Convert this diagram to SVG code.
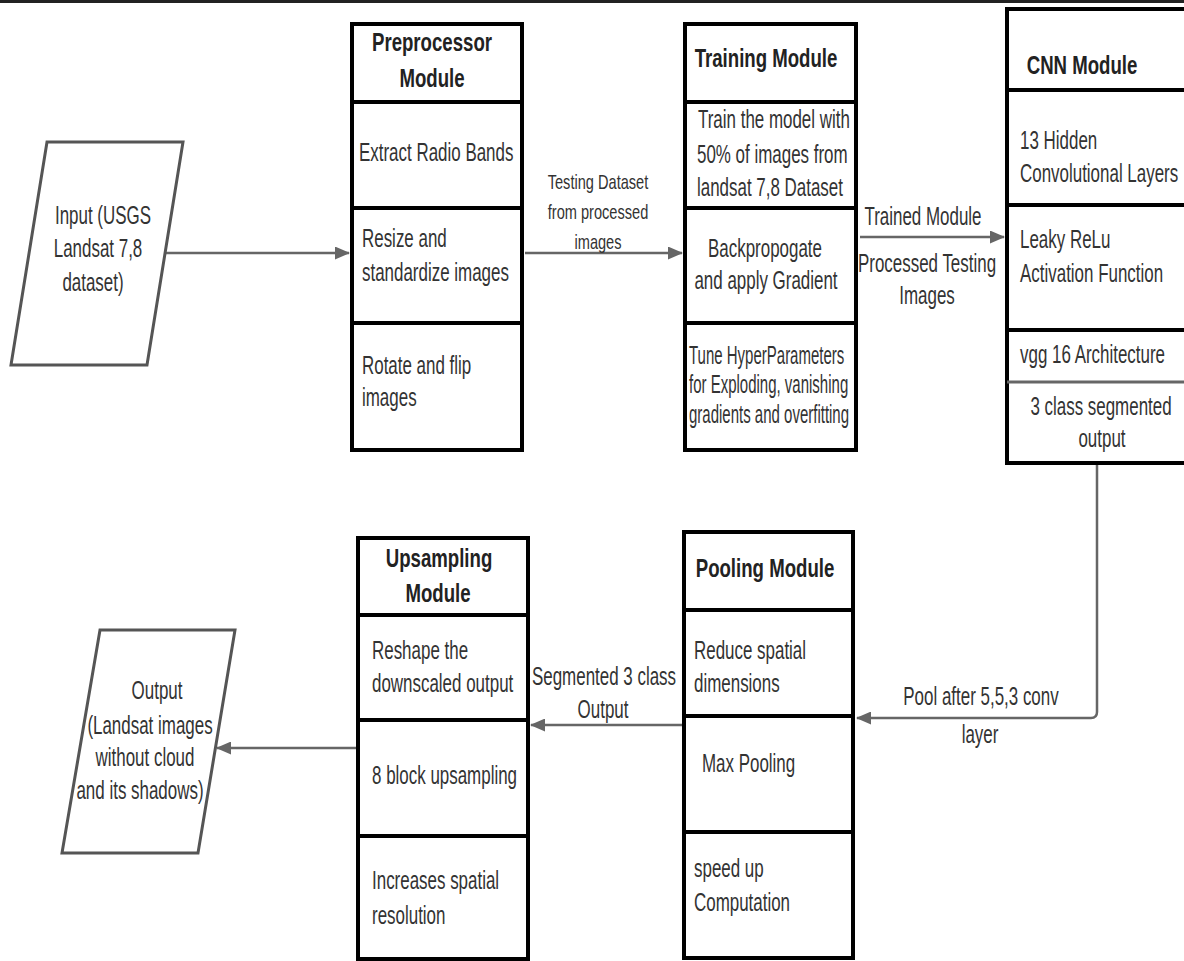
<svg xmlns="http://www.w3.org/2000/svg" width="1184" height="961" viewBox="0 0 1184 961">
<defs>
<style>
.box{fill:#fff;stroke:#000;stroke-width:4}
.div{stroke:#000;stroke-width:4}
.para{fill:#fff;stroke:#555;stroke-width:3}
.con{fill:none;stroke:#666;stroke-width:2.5}
text{font-family:"Liberation Sans",Arial,sans-serif;font-size:25px;fill:#333}
.h{font-weight:bold;font-size:25px;fill:#222}
.s{font-size:20px}
.m{text-anchor:middle}
</style>
<marker id="ah" markerUnits="userSpaceOnUse" markerWidth="15" markerHeight="13" refX="14" refY="6.5" orient="auto">
<path d="M0,0 L15,6.5 L0,13 z" fill="#666"/>
</marker>
</defs>
<rect width="1184" height="961" fill="#fff"/>
<line x1="0" y1="1.5" x2="1184" y2="1.5" stroke="#222" stroke-width="3"/>

<g id="connectors">
<line class="con" x1="165" y1="253" x2="349" y2="253" marker-end="url(#ah)"/>
<line class="con" x1="525" y1="253" x2="682" y2="253" marker-end="url(#ah)"/>
<line class="con" x1="860" y1="237" x2="1004" y2="237" marker-end="url(#ah)"/>
<path class="con" d="M1097,465 L1097,712 Q1097,718 1091,718 L857,718" marker-end="url(#ah)"/>
<line class="con" x1="682" y1="725" x2="531" y2="725" marker-end="url(#ah)"/>
<line class="con" x1="356" y1="748" x2="217" y2="748" marker-end="url(#ah)"/>
<text class="s m" transform="translate(598 189) scale(0.73 1)">Testing Dataset</text>
<text class="s m" transform="translate(598 219) scale(0.73 1)">from processed</text>
<text class="s m" transform="translate(598 249) scale(0.73 1)">images</text>
<text class="m" transform="translate(923 225) scale(0.678 1)">Trained Module</text>
<text class="m" transform="translate(927 272) scale(0.678 1)">Processed Testing</text>
<text class="m" transform="translate(927 304) scale(0.678 1)">Images</text>
<text class="m" transform="translate(981 705) scale(0.678 1)">Pool after 5,5,3 conv</text>
<text class="m" transform="translate(980 743) scale(0.678 1)">layer</text>
<text class="m" transform="translate(604 685) scale(0.678 1)">Segmented 3 class</text>
<text class="m" transform="translate(603 718) scale(0.678 1)">Output</text>
</g>

<g id="input">
<polygon class="para" points="47,142 183,142 147,365 11,365"/>
<text class="m" transform="translate(103 224) scale(0.678 1)">Input (USGS</text>
<text class="m" transform="translate(98 257) scale(0.678 1)">Landsat 7,8</text>
<text class="m" transform="translate(93 291) scale(0.678 1)">dataset)</text>
</g>

<g id="preprocessor">
<rect class="box" x="352" y="24" width="170" height="426"/>
<line class="div" x1="352" y1="102" x2="522" y2="102"/>
<line class="div" x1="352" y1="208" x2="522" y2="208"/>
<line class="div" x1="352" y1="323" x2="522" y2="323"/>
<text class="h m" transform="translate(432 51) scale(0.745 1)">Preprocessor</text>
<text class="h m" transform="translate(432 87) scale(0.745 1)">Module</text>
<text transform="translate(359 161) scale(0.678 1)">Extract Radio Bands</text>
<text transform="translate(362 247) scale(0.678 1)">Resize and</text>
<text transform="translate(362 281) scale(0.678 1)">standardize images</text>
<text transform="translate(362 374) scale(0.678 1)">Rotate and flip</text>
<text transform="translate(362 406) scale(0.678 1)">images</text>
</g>

<g id="training">
<rect class="box" x="685" y="24" width="171" height="426"/>
<line class="div" x1="685" y1="102" x2="856" y2="102"/>
<line class="div" x1="685" y1="208" x2="856" y2="208"/>
<line class="div" x1="685" y1="323" x2="856" y2="323"/>
<text class="h m" transform="translate(766 67) scale(0.745 1)">Training Module</text>
<text transform="translate(698 128) scale(0.678 1)">Train the model with</text>
<text transform="translate(697 163) scale(0.678 1)">50% of images from</text>
<text transform="translate(697 196) scale(0.678 1)">landsat 7,8 Dataset</text>
<text class="m" transform="translate(765 257) scale(0.678 1)">Backpropogate</text>
<text class="m" transform="translate(766 289) scale(0.678 1)">and apply Gradient</text>
<text transform="translate(689 364) scale(0.6 1)">Tune HyperParameters</text>
<text transform="translate(689 393) scale(0.6 1)">for Exploding, vanishing</text>
<text transform="translate(689 423) scale(0.6 1)">gradients and overfitting</text>
</g>

<g id="cnn">
<rect class="box" x="1007" y="9" width="182" height="454"/>
<line class="div" x1="1007" y1="90" x2="1189" y2="90"/>
<line class="div" x1="1007" y1="205" x2="1189" y2="205"/>
<line class="div" x1="1007" y1="330" x2="1189" y2="330"/>
<line x1="1007" y1="382" x2="1189" y2="382" stroke="#666" stroke-width="3"/>
<text class="h m" transform="translate(1082 74) scale(0.745 1)">CNN Module</text>
<text transform="translate(1020 149) scale(0.678 1)">13 Hidden</text>
<text transform="translate(1020 182) scale(0.678 1)">Convolutional Layers</text>
<text transform="translate(1020 248) scale(0.678 1)">Leaky ReLu</text>
<text transform="translate(1020 282) scale(0.678 1)">Activation Function</text>
<text transform="translate(1020 363) scale(0.678 1)">vgg 16 Architecture</text>
<text class="m" transform="translate(1101 415) scale(0.678 1)">3 class segmented</text>
<text class="m" transform="translate(1102 447) scale(0.678 1)">output</text>
</g>

<g id="pooling">
<rect class="box" x="684" y="532" width="169" height="426"/>
<line class="div" x1="684" y1="610" x2="853" y2="610"/>
<line class="div" x1="684" y1="716" x2="853" y2="716"/>
<line class="div" x1="684" y1="832" x2="853" y2="832"/>
<text class="h m" transform="translate(765 577) scale(0.745 1)">Pooling Module</text>
<text transform="translate(694 659) scale(0.678 1)">Reduce spatial</text>
<text transform="translate(694 692) scale(0.678 1)">dimensions</text>
<text transform="translate(702 772) scale(0.678 1)">Max Pooling</text>
<text transform="translate(694 877) scale(0.678 1)">speed up</text>
<text transform="translate(694 911) scale(0.678 1)">Computation</text>
</g>

<g id="upsampling">
<rect class="box" x="358" y="538" width="170" height="421"/>
<line class="div" x1="358" y1="615" x2="528" y2="615"/>
<line class="div" x1="358" y1="720" x2="528" y2="720"/>
<line class="div" x1="358" y1="836" x2="528" y2="836"/>
<text class="h m" transform="translate(439 567) scale(0.745 1)">Upsampling</text>
<text class="h m" transform="translate(438 602) scale(0.745 1)">Module</text>
<text transform="translate(372 659) scale(0.678 1)">Reshape the</text>
<text transform="translate(372 692) scale(0.678 1)">downscaled output</text>
<text transform="translate(372 784) scale(0.678 1)">8 block upsampling</text>
<text transform="translate(372 889) scale(0.678 1)">Increases spatial</text>
<text transform="translate(372 924) scale(0.678 1)">resolution</text>
</g>

<g id="output">
<polygon class="para" points="100,630 235,630 198,853 62,853"/>
<text class="m" transform="translate(157 699) scale(0.678 1)">Output</text>
<text class="m" transform="translate(150 734) scale(0.678 1)">(Landsat images</text>
<text class="m" transform="translate(145 766) scale(0.678 1)">without cloud</text>
<text class="m" transform="translate(140 799) scale(0.678 1)">and its shadows)</text>
</g>
</svg>
